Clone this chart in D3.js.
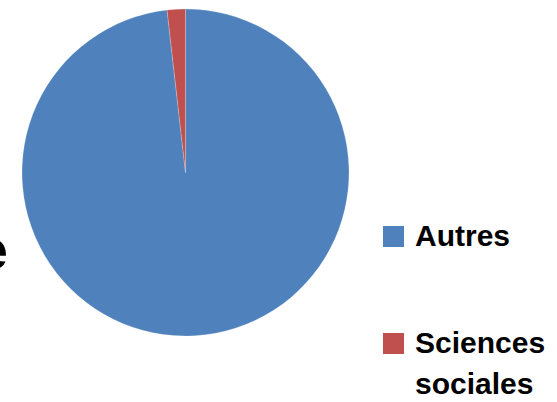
<!DOCTYPE html>
<html>
<head>
<meta charset="utf-8">
<script src="https://cdn.jsdelivr.net/npm/d3@7"></script>
<style>
  html, body { margin: 0; padding: 0; background: #fff; }
  svg { display: block; }
</style>
</head>
<body>
<svg id="chart" width="557" height="402"></svg>
<script>
// Share of publications by field
const categories = ["Autres", "Sciences sociales"];
const values = [98.2, 1.8];
const colors = ["#4F81BD", "#C0504D"];
const legendLines = [["Autres"], ["Sciences", "sociales"]];

const svg = d3.select("#chart");
const W = 557, H = 402;

const color = d3.scaleOrdinal().domain(categories).range(colors);

// Partial title glyph clipped at the left edge
svg.append("text")
  .attr("x", 8)
  .attr("y", 269)
  .attr("text-anchor", "end")
  .attr("font-family", "Liberation Sans, Arial, sans-serif")
  .attr("font-weight", "bold")
  .attr("font-size", 56)
  .attr("fill", "#000")
  .text("e");

const cx = 185.5, cy = 172.5, r = 163.5;
const pie = d3.pie().sort(null).value(d => d.v)
  .startAngle(0).endAngle(2 * Math.PI);
const arc = d3.arc().innerRadius(0).outerRadius(r);
const data = categories.map((c, i) => ({ c, v: values[i] }));

svg.append("g")
  .attr("transform", `translate(${cx},${cy})`)
  .selectAll("path")
  .data(pie(data))
  .join("path")
  .attr("d", arc)
  .attr("fill", d => color(d.data.c))
  .attr("stroke", "rgba(255,255,255,0.35)")
  .attr("stroke-width", 0.6);

// Legend
const legendY = d3.scalePoint().domain(categories).range([226, 333]);
const lg = svg.append("g")
  .selectAll("g")
  .data(categories)
  .join("g")
  .attr("transform", d => `translate(383,${legendY(d)})`);

lg.append("rect")
  .attr("width", 21)
  .attr("height", 21)
  .attr("fill", d => color(d));

lg.append("text")
  .attr("x", 32)
  .attr("y", 20)
  .attr("font-family", "Liberation Sans, Arial, sans-serif")
  .attr("font-weight", "bold")
  .attr("font-size", 30)
  .attr("fill", "#000")
  .each(function(d, i) {
    d3.select(this).selectAll("tspan")
      .data(legendLines[i])
      .join("tspan")
      .attr("x", 32)
      .attr("dy", (t, j) => j === 0 ? 0 : 41)
      .text(t => t);
  });
</script>
</body>
</html>
